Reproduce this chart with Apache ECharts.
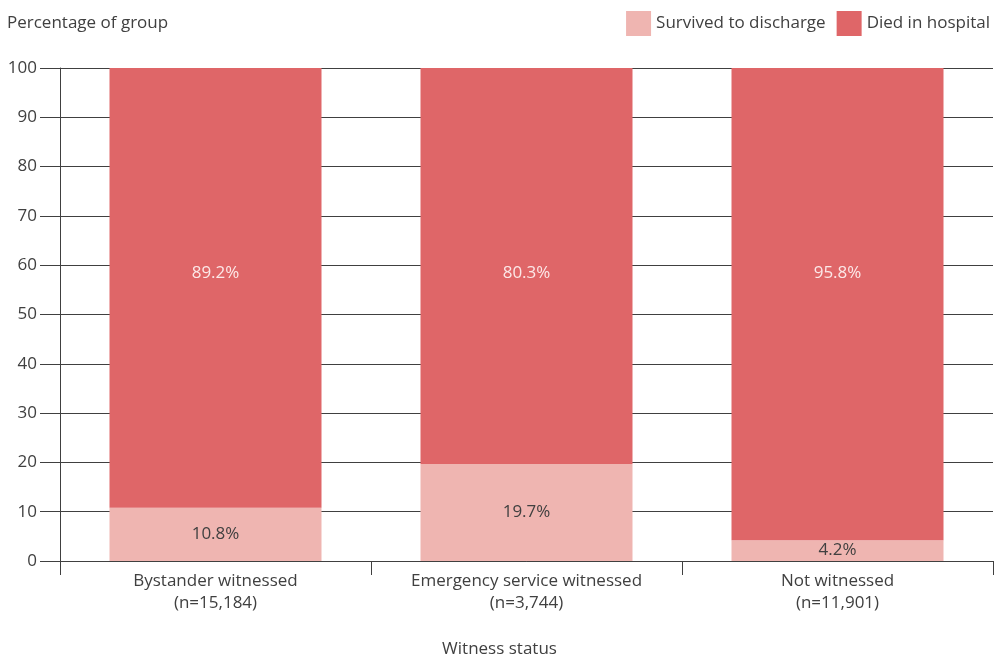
<!DOCTYPE html>
<html><head><meta charset="utf-8">
<script src="https://cdn.jsdelivr.net/npm/echarts@6/dist/echarts.min.js"></script>
<style>html,body{margin:0;padding:0;background:#fff}#c{width:995px;height:657px}</style>
</head><body><div id="c"></div>
<script>
const categories = ['Bystander witnessed\n(n=15,184)', 'Emergency service witnessed\n(n=3,744)', 'Not witnessed\n(n=11,901)'];
const survived = [10.8, 19.7, 4.2];
const died = [89.2, 80.3, 95.8];
const yTicks = [0, 10, 20, 30, 40, 50, 60, 70, 80, 90, 100];
const FONT = '"Open Sans", "Noto Sans", sans-serif';
const FS = 17;
const TXT = '#404040';
const chart = echarts.init(document.getElementById('c'));
chart.setOption({
  animation: false,
  textStyle: {fontFamily: FONT},
  legend: {
    top: 11, right: 5, padding: 0, itemWidth: 25, itemHeight: 25, itemGap: 11,
    icon: 'rect',
    textStyle: {fontFamily: FONT, fontSize: FS, color: TXT},
    data: ['Survived to discharge', 'Died in hospital']
  },
  grid: {left: 60, right: 2, top: 68, bottom: 96, outerBoundsMode: 'none', containLabel: false},
  xAxis: {
    type: 'category', data: categories,
    name: 'Witness status', nameLocation: 'middle', nameGap: 80,
    nameTextStyle: {fontFamily: FONT, fontSize: FS, color: TXT, padding: [0, 54, 0, 0]},
    axisLine: {lineStyle: {color: '#404040', width: 1}},
    axisTick: {show: true, length: 14, lineStyle: {color: '#404040'}},
    axisLabel: {fontFamily: FONT, fontSize: FS, color: TXT, lineHeight: 22, margin: 9}
  },
  yAxis: {
    type: 'value', min: yTicks[0], max: yTicks[yTicks.length - 1], interval: 10,
    name: 'Percentage of group', nameLocation: 'end', nameGap: 0,
    nameTextStyle: {fontFamily: FONT, fontSize: FS, color: TXT, align: 'left', padding: [0, 0, 36, -53]},
    axisLine: {show: true, lineStyle: {color: '#404040'}},
    axisTick: {show: true, length: 20, lineStyle: {color: '#404040'}},
    axisLabel: {fontFamily: FONT, fontSize: FS, color: TXT, margin: 23},
    splitLine: {show: true, lineStyle: {color: '#404040', width: 1}}
  },
  series: [
    {
      name: 'Survived to discharge', type: 'bar', stack: 'a', data: survived, barWidth: 212,
      itemStyle: {color: '#EFB5B1'},
      label: {show: true, position: 'inside', formatter: p => p.value.toFixed(1) + '%',
              fontFamily: FONT, fontSize: FS, color: TXT}
    },
    {
      name: 'Died in hospital', type: 'bar', stack: 'a', data: died, barWidth: 212,
      itemStyle: {color: '#DF6668'},
      label: {show: true, position: ['50%', 205], align: 'center', verticalAlign: 'middle',
              formatter: p => p.value.toFixed(1) + '%',
              fontFamily: FONT, fontSize: FS, color: '#FCE8E8'}
    }
  ]
});
</script></body></html>
